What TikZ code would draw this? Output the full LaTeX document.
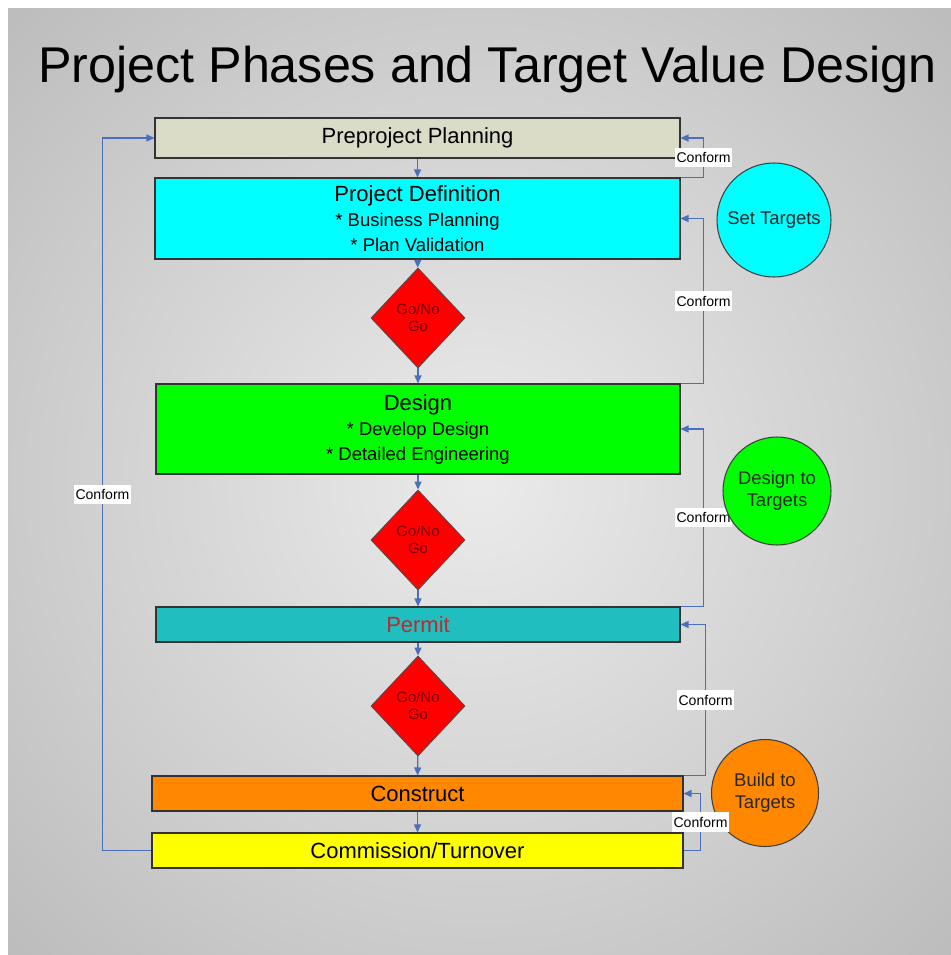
\documentclass[tikz,border=0pt]{standalone}
\usepackage{fontspec}
\setmainfont{Liberation Sans}
\usetikzlibrary{shapes.geometric,arrows.meta}

\definecolor{flowblue}{RGB}{74,112,188}
\definecolor{planbeige}{RGB}{218,220,200}
\definecolor{defcyan}{RGB}{0,255,255}
\definecolor{designgreen}{RGB}{0,255,0}
\definecolor{permitteal}{RGB}{32,190,190}
\definecolor{buildorange}{RGB}{255,136,0}
\definecolor{handyellow}{RGB}{255,255,0}
\definecolor{gatered}{RGB}{120,0,0}
\definecolor{permitred}{RGB}{192,40,45}
\pgfdeclareradialshading{backglow}{\pgfpoint{0bp}{0bp}}{gray(0bp)=(0.92); gray(20bp)=(0.82); gray(50bp)=(0.66)}

\begin{document}
\begin{tikzpicture}[x=0.2mm, y=-0.2mm,
    phase/.style ={rectangle, draw=black!80, line width=0.6pt, minimum width=105mm,
       inner sep=0pt, align=center, font=\fontsize{12.5}{14.2}\selectfont},
    gate/.style ={diamond, draw=black!70, fill=red, line width=0.5pt, minimum width=18.8mm,
       minimum height=20mm, inner sep=0pt, align=center, text=gatered,
       font=\fontsize{8.5}{9.6}\selectfont},
    target/.style ={circle, draw=black!75, line width=0.6pt, inner sep=0pt, align=center,
       text=black!85, font=\fontsize{10.5}{12.5}\selectfont},
    flow/.style ={draw=flowblue, line width=0.75pt, -{Triangle[length=1.6mm, width=1.4mm]}},
    conform/.style ={fill=white, text=black, inner xsep=1pt, inner ysep=2.5pt,
       font=\fontsize{8}{9}\selectfont}]
   \useasboundingbox (0,0) rectangle (951,955);
   \fill[white] (0,0) rectangle (951,955);
   \shade[shading=backglow] (8,8) rectangle (951,955);

   \node[anchor=base, font=\fontsize{28.6}{30}\selectfont] (title) at (487.5,82)
      {Project Phases and Target Value Design};

   \node[phase, fill=planbeige, minimum height=8mm] (preproj) at (417.5,138) {Preproject Planning};
   \node[phase, fill=defcyan, minimum height=16.2mm, font=\fontsize{10.5}{14.2}\selectfont] (definition) at (417.5,218.5)
      {{\fontsize{12.5}{14.2}\selectfont Project Definition}\\* Business Planning\\* Plan Validation};
   \node[gate] (gate1) at (418,318) {Go/No\\Go};
   \node[phase, fill=designgreen, minimum width=104.8mm, minimum height=18mm, font=\fontsize{10.5}{14.2}\selectfont] (design) at (418,429)
      {{\fontsize{12.5}{14.2}\selectfont Design}\\* Develop Design\\* Detailed Engineering};
   \node[gate] (gate2) at (418,540) {Go/No\\Go};
   \node[phase, fill=permitteal, text=permitred, minimum width=104.8mm, minimum height=7mm] (permit) at (418,624.5) {Permit};
   \node[gate] (gate3) at (418,706) {Go/No\\Go};
   \node[phase, fill=buildorange, minimum width=106.2mm, minimum height=7mm] (construct) at (417.5,793.5) {Construct};
   \node[phase, fill=handyellow, minimum width=106.2mm, minimum height=7mm] (commission) at (417.5,850.5) {Commission/Turnover};

   \node[target, fill=defcyan, minimum size=22.8mm] (settargets) at (774,220) {Set Targets};
   \node[target, fill=buildorange, minimum size=21.4mm] (buildtargets) at (765,793) {Build to\\Targets};

   \draw[flow] (preproj) -- (definition);
   \draw[flow] (definition) -- (gate1);
   \draw[flow] (gate1) -- (design);
   \draw[flow] (design) -- (gate2);
   \draw[flow] (gate2) -- (permit);
   \draw[flow] (permit) -- (gate3);
   \draw[flow] (gate3) -- (construct);
   \draw[flow] (construct) -- (commission);

   \draw[flow] (definition.north east) -- ++(23,0) |- node[conform, pos=0.25] (c1) {Conform} (preproj.east);
   \draw[flow] (design.north east) -- ++(23,0) |- node[conform, pos=0.25] (c2) {Conform} (definition.east);
   \draw[flow] (permit.north east) -- ++(23,0) |- node[conform, pos=0.25] (c3) {Conform} (design.east);
   \draw[flow] (construct.north east) -- ++(22,0) |- node[conform, pos=0.25] (c4) {Conform} (permit.east);
   \draw[flow] (commission.east) -- ++(17,0) |- node[conform, pos=0.25] (c5) {Conform} (construct.east);
   \draw[flow] (commission.west) -- ++(-49,0) |- node[conform, pos=0.25] (c6) {Conform} (preproj.west);

   \node[target, fill=designgreen, minimum size=21.6mm] (designtargets) at (777,491) {Design to\\Targets};
 \end{tikzpicture}
\end{document}
